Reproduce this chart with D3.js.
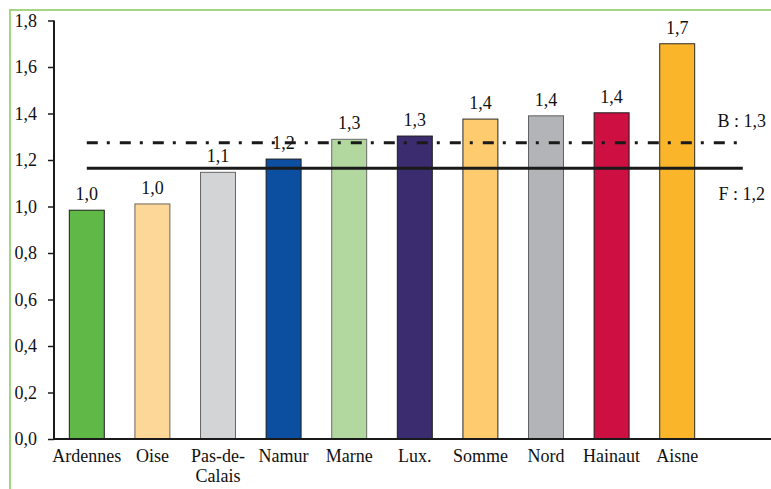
<!DOCTYPE html>
<html>
<head>
<meta charset="utf-8">
<script src="https://cdn.jsdelivr.net/npm/d3@7"></script>
<style>
  html, body { margin: 0; padding: 0; background: #fff; }
  svg { display: block; }
  text { font-family: "Liberation Serif", "Times New Roman", serif; fill: #111; }
</style>
</head>
<body>
<script>
// Regions and their index values
const regions = ["Ardennes", "Oise", "Pas-de-Calais", "Namur", "Marne", "Lux.", "Somme", "Nord", "Hainaut", "Aisne"];
const values  = [0.984, 1.011, 1.147, 1.204, 1.289, 1.303, 1.376, 1.390, 1.403, 1.700];
const colors  = ["#60b947", "#fdd797", "#d3d4d6", "#0c4fa0", "#b2d89f", "#3b2b6f", "#fecc6e", "#b3b4b8", "#cd0f41", "#fbb52a"];
const edges   = ["#1c1c1c", "#6b6459", "#666666", "#1c1c1c", "#6a6a6a", "#1c1c1c", "#2a2a2a", "#606060", "#1c1c1c", "#2a2a2a"];

// Reference levels (Belgium, France)
const refNames  = ["B", "F"];
const refValues = [1.274, 1.164];
const refDashes = ["11,9,3,10", null];

const yTicks = [0, 0.2, 0.4, 0.6, 0.8, 1.0, 1.2, 1.4, 1.6, 1.8];

const W = 771, H = 489;
const FONT = "Liberation Serif, Times New Roman, serif";
const fmt = v => d3.format(".1f")(v).replace(".", ",");

const svg = d3.select("body").append("svg").attr("width", W).attr("height", H);

// frame
svg.append("path")
  .attr("d", `M10,${H} L10,10 L${W},10`)
  .attr("fill", "none").attr("stroke", "#a3d583").attr("stroke-width", 2);

// one trailing empty slot holds the reference labels
const slots = regions.concat([" "]);
const x = d3.scaleBand().domain(slots).range([54, 54 + 65.6 * slots.length])
  .paddingInner(0.467).paddingOuter(0.2335);
const y = d3.scaleLinear().domain([0, 1.8]).range([439, 20.5]);
const cx = d => x(d) + x.bandwidth() / 2;

// y axis
const yAxis = svg.append("g").attr("transform", "translate(54,0)")
  .call(d3.axisLeft(y).tickValues(yTicks).tickFormat(fmt).tickSize(6).tickPadding(11));
yAxis.attr("font-family", FONT);
yAxis.select(".domain").attr("stroke", "#1a1a1a").attr("stroke-width", 2).attr("d", `M0,${y(1.8)}V${y(0)}`);
yAxis.selectAll(".tick line").attr("stroke", "#1a1a1a").attr("stroke-width", 1.5);
yAxis.selectAll(".tick text").attr("font-size", 18).attr("fill", "#111");

// bars
svg.append("g").selectAll("rect").data(regions).join("rect")
  .attr("x", d => x(d))
  .attr("y", (d, i) => y(values[i]))
  .attr("width", x.bandwidth())
  .attr("height", (d, i) => y(0) - y(values[i]))
  .attr("fill", (d, i) => colors[i])
  .attr("stroke", (d, i) => edges[i]).attr("stroke-width", 1);

// value labels
svg.append("g").selectAll("text").data(regions).join("text")
  .attr("x", d => cx(d))
  .attr("y", (d, i) => y(values[i]) - 10)
  .attr("text-anchor", "middle").attr("font-size", 18)
  .text((d, i) => fmt(values[i]));

// x axis line
svg.append("line").attr("x1", 54).attr("x2", W).attr("y1", y(0)).attr("y2", y(0))
  .attr("stroke", "#1a1a1a").attr("stroke-width", 2);

// category labels (hyphenated names wrap after the hyphen)
const xl = svg.append("g").selectAll("text").data(regions).join("text")
  .attr("x", d => cx(d)).attr("y", 462)
  .attr("text-anchor", "middle").attr("font-size", 18);
xl.each(function (d) {
  const m = d.match(/^(.*-)([^-]+)$/);
  const parts = m ? [m[1], m[2]] : [d];
  d3.select(this).selectAll("tspan").data(parts).join("tspan")
    .attr("x", cx(d)).attr("dy", (p, j) => j ? 20 : 0).text(p => p);
});

// reference lines
const first = cx(slots[0]), last = cx(slots[slots.length - 1]);
refValues.forEach((v, i) => {
  svg.append("line").attr("x1", first).attr("x2", last).attr("y1", y(v)).attr("y2", y(v))
    .attr("stroke", "#1a1a1a").attr("stroke-width", 3)
    .attr("stroke-dasharray", refDashes[i]);
});
// reference labels: B above its line, F below
svg.append("text").attr("x", last - 1).attr("y", y(refValues[0]) - 16)
  .attr("text-anchor", "middle").attr("font-size", 18).text(`${refNames[0]} : ${fmt(refValues[0])}`);
svg.append("text").attr("x", last - 1).attr("y", y(refValues[1]) + 32)
  .attr("text-anchor", "middle").attr("font-size", 18).text(`${refNames[1]} : ${fmt(refValues[1])}`);
</script>
</body>
</html>
